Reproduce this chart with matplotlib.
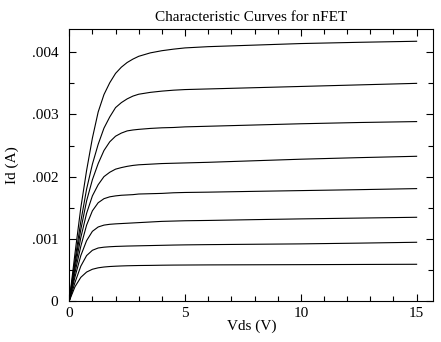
import matplotlib
matplotlib.use('Agg')
import matplotlib.pyplot as plt
from matplotlib.ticker import MultipleLocator, FuncFormatter

# Vds sample points (V)
vds = [0, 0.25, 0.5, 0.75, 1.0, 1.25, 1.5, 1.75, 2.0, 2.25, 2.5, 2.75,
       3.0, 3.5, 4.0, 4.5, 5.0, 6, 8, 10, 12.5, 15]

# Id, in mA, one list per gate voltage step (bottom -> top)
id_1 = [0, 0.23, 0.38, 0.465, 0.51, 0.533, 0.546, 0.554, 0.559, 0.563, 0.566, 0.568,
        0.57, 0.572, 0.575, 0.577, 0.578, 0.58, 0.582, 0.584, 0.587, 0.59]
id_2 = [0, 0.30, 0.56, 0.73, 0.815, 0.852, 0.865, 0.872, 0.877, 0.88, 0.883, 0.885,
        0.887, 0.891, 0.895, 0.899, 0.902, 0.906, 0.912, 0.918, 0.93, 0.944]
id_3 = [0, 0.39, 0.73, 0.97, 1.12, 1.19, 1.22, 1.233, 1.24, 1.245, 1.25, 1.255,
        1.26, 1.27, 1.28, 1.285, 1.29, 1.295, 1.308, 1.32, 1.333, 1.346]
id_4 = [0, 0.46, 0.88, 1.22, 1.45, 1.58, 1.645, 1.675, 1.69, 1.70, 1.705, 1.71,
        1.72, 1.725, 1.73, 1.74, 1.745, 1.75, 1.763, 1.775, 1.79, 1.807]
id_5 = [0, 0.53, 1.02, 1.41, 1.69, 1.87, 2.00, 2.07, 2.12, 2.145, 2.165, 2.18,
        2.19, 2.20, 2.21, 2.215, 2.22, 2.23, 2.255, 2.28, 2.305, 2.327]
id_6 = [0, 0.60, 1.15, 1.61, 1.95, 2.21, 2.42, 2.56, 2.65, 2.70, 2.735, 2.75,
        2.76, 2.775, 2.785, 2.79, 2.80, 2.81, 2.83, 2.85, 2.87, 2.885]
id_7 = [0, 0.66, 1.28, 1.80, 2.20, 2.52, 2.78, 2.96, 3.11, 3.19, 3.25, 3.295,
        3.325, 3.355, 3.375, 3.39, 3.40, 3.41, 3.43, 3.45, 3.475, 3.50]
id_8 = [0, 0.77, 1.50, 2.10, 2.62, 3.04, 3.32, 3.51, 3.66, 3.76, 3.835, 3.89,
        3.935, 3.99, 4.025, 4.05, 4.07, 4.09, 4.115, 4.14, 4.16, 4.177]

curves = [id_1, id_2, id_3, id_4, id_5, id_6, id_7, id_8]

plt.rcParams['font.family'] = ['Liberation Serif', 'DejaVu Serif']
plt.rcParams['font.size'] = 11

fig = plt.figure(figsize=(4.41, 3.42), dpi=100)
ax = fig.add_axes([0.157, 0.12, 0.8255, 0.795])

for c in curves:
    ax.plot(vds, [v * 1e-3 for v in c], color='black', lw=0.8)

ax.set_xlim(0, 15.72)
ax.set_ylim(0, 0.004373)

ax.xaxis.set_major_locator(MultipleLocator(5))
ax.xaxis.set_minor_locator(MultipleLocator(1))
ax.yaxis.set_major_locator(MultipleLocator(0.001))
ax.yaxis.set_minor_locator(MultipleLocator(0.0005))


def fmt_y(v, pos):
    if abs(v) < 1e-12:
        return '0'
    return ('%.3f' % v).lstrip('0')


ax.yaxis.set_major_formatter(FuncFormatter(fmt_y))
ax.xaxis.set_major_formatter(FuncFormatter(lambda v, p: '%d' % v))

ax.tick_params(which='both', direction='in', top=True, right=True, width=0.8, colors='black')
ax.tick_params(which='major', length=5)
ax.tick_params(which='minor', length=3.6)
ax.tick_params(axis='x', which='major', pad=4)
ax.tick_params(axis='y', which='major', pad=8)

for s in ax.spines.values():
    s.set_linewidth(0.8)

ax.set_title('Characteristic Curves for nFET', fontsize=11, pad=6)
ax.set_xlabel('Vds (V)', labelpad=0)
ax.set_ylabel('Id (A)', labelpad=9)

fig.savefig('out.png', dpi=100)
